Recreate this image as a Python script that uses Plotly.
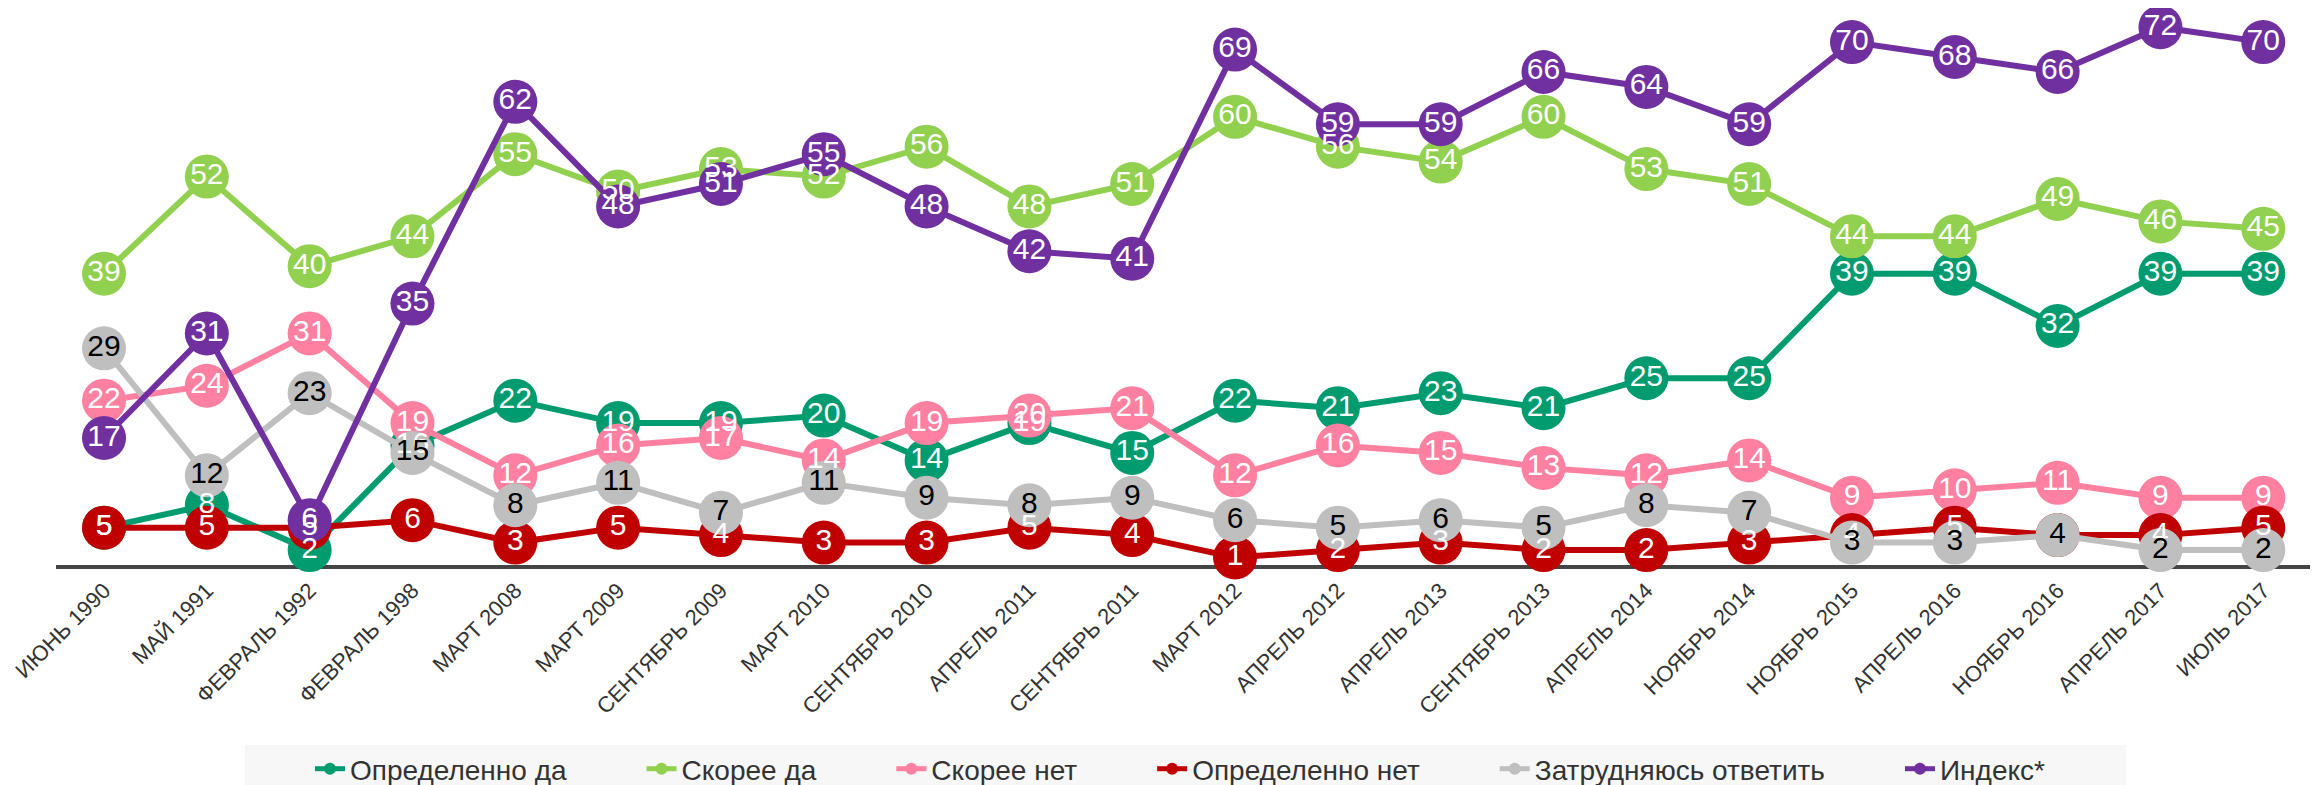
import plotly.graph_objects as go

categories = ["ИЮНЬ 1990", "МАЙ 1991", "ФЕВРАЛЬ 1992", "ФЕВРАЛЬ 1998", "МАРТ 2008", "МАРТ 2009",
              "СЕНТЯБРЬ 2009", "МАРТ 2010", "СЕНТЯБРЬ 2010", "АПРЕЛЬ 2011", "СЕНТЯБРЬ 2011",
              "МАРТ 2012", "АПРЕЛЬ 2012", "АПРЕЛЬ 2013", "СЕНТЯБРЬ 2013", "АПРЕЛЬ 2014",
              "НОЯБРЬ 2014", "НОЯБРЬ 2015", "АПРЕЛЬ 2016", "НОЯБРЬ 2016", "АПРЕЛЬ 2017", "ИЮЛЬ 2017"]

definitely_yes = [5, 8, 2, 16, 22, 19, 19, 20, 14, 19, 15, 22, 21, 23, 21, 25, 25, 39, 39, 32, 39, 39]
rather_yes = [39, 52, 40, 44, 55, 50, 53, 52, 56, 48, 51, 60, 56, 54, 60, 53, 51, 44, 44, 49, 46, 45]
rather_no = [22, 24, 31, 19, 12, 16, 17, 14, 19, 20, 21, 12, 16, 15, 13, 12, 14, 9, 10, 11, 9, 9]
definitely_no = [5, 5, 5, 6, 3, 5, 4, 3, 3, 5, 4, 1, 2, 3, 2, 2, 3, 4, 5, 4, 4, 5]
hard_to_say = [29, 12, 23, 15, 8, 11, 7, 11, 9, 8, 9, 6, 5, 6, 5, 8, 7, 3, 3, 4, 2, 2]
index_values = [17, 31, 6, 35, 62, 48, 51, 55, 48, 42, 41, 69, 59, 59, 66, 64, 59, 70, 68, 66, 72, 70]

series = [
    ("Определенно да", definitely_yes, "#009B6F", "white"),
    ("Скорее да", rather_yes, "#92D050", "white"),
    ("Скорее нет", rather_no, "#FF80A0", "white"),
    ("Определенно нет", definitely_no, "#C00000", "white"),
    ("Затрудняюсь ответить", hard_to_say, "#BFBFBF", "black"),
    ("Индекс*", index_values, "#7030A0", "white"),
]

W, H = 2318, 785
L, R, T, B = 48, 0, 5, 228
PW, PH = W - L - R, H - T - B


def px_x(p):
    return (p - L) / PW


def px_y(p):
    return (H - B - p) / PH


x_idx = list(range(len(categories)))
fig = go.Figure()

pad = "\u00a0" * 9
for i, (name, vals, color, tcol) in enumerate(series):
    label = name + (pad if i < len(series) - 1 else "")
    fig.add_trace(go.Scatter(
        x=x_idx, y=vals, name=label, mode="lines+markers",
        line=dict(color=color, width=6),
        marker=dict(color=color, size=44),
        cliponaxis=False, hoverinfo="skip",
    ))

for name, vals, color, tcol in series:
    fig.add_trace(go.Scatter(
        x=x_idx, y=vals, mode="text", text=[str(v) for v in vals],
        textposition="middle center",
        textfont=dict(family="Liberation Sans", size=30, color=tcol),
        showlegend=False, cliponaxis=False, hoverinfo="skip",
    ))

# legend background box
fig.add_shape(type="rect", xref="paper", yref="paper",
              x0=px_x(237), x1=px_x(2118), y0=px_y(785), y1=px_y(737),
              fillcolor="#F7F7F7", line=dict(width=0), layer="below")

fig.update_layout(
    width=W, height=H,
    margin=dict(l=L, r=R, t=T, b=B, autoexpand=False),
    paper_bgcolor="white", plot_bgcolor="white",
    showlegend=True,
    legend=dict(
        orientation="h", x=px_x(302), xanchor="left", y=px_y(761), yanchor="middle",
        bgcolor="rgba(0,0,0,0)", font=dict(family="Liberation Sans", size=28, color="#333333"),
        itemsizing="constant", itemwidth=30,
    ),
    xaxis=dict(
        range=[-0.467, 21.61], tickmode="array", tickvals=x_idx, ticktext=categories,
        tickangle=-45, showgrid=False, zeroline=False, showline=True,
        linecolor="#444444", linewidth=4, ticks="", layer="below traces",
        tickfont=dict(family="Liberation Sans", size=22, color="#333333"),
        automargin=False, ticklabeloverflow="allow",
    ),
    yaxis=dict(range=[0, PH / 7.47], visible=False, showgrid=False, zeroline=False),
)

fig.write_html("out.html")
